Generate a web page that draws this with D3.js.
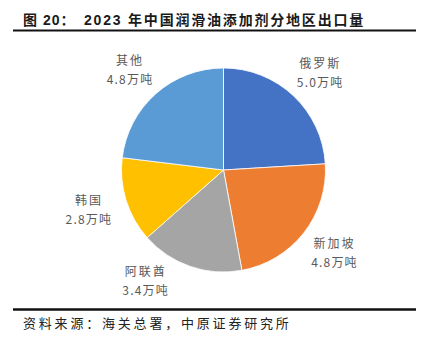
<!DOCTYPE html>
<html>
<head>
<meta charset="utf-8">
<script src="https://cdn.jsdelivr.net/npm/d3@7/dist/d3.min.js"></script>
<style>
  html, body { margin: 0; padding: 0; background: #fff; }
  svg { display: block; }
</style>
</head>
<body>
<script>
const categories = ["俄罗斯", "新加坡", "阿联酋", "韩国", "其他"];
const values = [5.0, 4.8, 3.4, 2.8, 4.8];
const valueLabels = ["5.0万吨", "4.8万吨", "3.4万吨", "2.8万吨", "4.8万吨"];
const colors = ["#4472C4", "#ED7D31", "#A5A5A5", "#FFC000", "#5B9BD5"];
const titlePrefix = "图 20：";
const titleText = "2023 年中国润滑油添加剂分地区出口量";
const sourceText = "资料来源：海关总署，中原证券研究所";

const W = 421, H = 342;
const cx = 223.5, cy = 170, R = 102, labelR = 116;
const plotTop = 50, plotBottom = 298; // label area bounds

const svg = d3.select("body").append("svg")
  .attr("width", W).attr("height", H);

const cjk = "'Liberation Sans', 'Noto Sans CJK SC', sans-serif";

// Title
const title = svg.append("text")
  .attr("y", 25)
  .attr("font-family", cjk)
  .attr("font-weight", "bold")
  .attr("font-size", 14)
  .attr("fill", "#1a1a1a");
title.append("tspan").attr("x", 23).attr("letter-spacing", 1).text(titlePrefix);
title.append("tspan").attr("x", 84).attr("letter-spacing", 1.8).text(titleText);

svg.append("line").attr("x1", 13).attr("x2", 416).attr("y1", 30.5).attr("y2", 30.5)
  .attr("stroke", "#111").attr("stroke-width", 2);
svg.append("line").attr("x1", 13).attr("x2", 416).attr("y1", 309.5).attr("y2", 309.5)
  .attr("stroke", "#111").attr("stroke-width", 2.5);

svg.append("text")
  .attr("x", 23).attr("y", 328)
  .attr("font-family", "'Noto Sans CJK SC', sans-serif")
  .attr("font-size", 13)
  .attr("letter-spacing", 2.8)
  .attr("fill", "#222")
  .text(sourceText);

// Pie
const data = categories.map((c, i) => ({ name: c, value: values[i], label: valueLabels[i], color: colors[i] }));
const pie = d3.pie().value(d => d.value).sort(null);
const arcs = pie(data);
const arc = d3.arc().innerRadius(0).outerRadius(R);

const g = svg.append("g").attr("transform", `translate(${cx},${cy})`);
g.selectAll("path").data(arcs).join("path")
  .attr("d", arc)
  .attr("fill", d => d.data.color)
  .attr("stroke", "#fff")
  .attr("stroke-width", 0.8);

// Labels (best-fit style: anchor outside the pie, box pushed away along mid-angle,
// rotated along its circle if it would leave the plot area)
const bw = 50, bh = 36;
const lbl = g.selectAll("g.lbl").data(arcs).join("g").attr("class", "lbl")
  .attr("transform", d => {
    const a = (d.startAngle + d.endAngle) / 2;
    const sx = Math.sin(a), sy = -Math.cos(a);
    let x = labelR * sx + bw / 2 * sx;
    let y = labelR * sy + bh / 2 * sy;
    const dist = Math.hypot(x, y);
    const maxY = plotBottom - cy - bh / 2, minY = plotTop - cy + bh / 2;
    if (y > maxY || y < minY) {
      y = Math.max(minY, Math.min(maxY, y));
      x = Math.sign(x) * Math.sqrt(dist * dist - y * y);
    }
    return `translate(${x},${y})`;
  });
lbl.append("text")
  .attr("text-anchor", "middle")
  .attr("y", -4.5)
  .attr("font-family", "'Noto Sans CJK SC', sans-serif")
  .attr("font-size", 12)
  .attr("letter-spacing", 2)
  .attr("fill", "#595959")
  .text(d => d.data.name);
lbl.append("text")
  .attr("text-anchor", "middle")
  .attr("y", 14.5)
  .attr("font-family", "'Noto Sans CJK SC', sans-serif")
  .attr("font-size", 12)
  .attr("letter-spacing", 1.2)
  .attr("fill", "#595959")
  .text(d => d.data.label);
</script>
</body>
</html>
